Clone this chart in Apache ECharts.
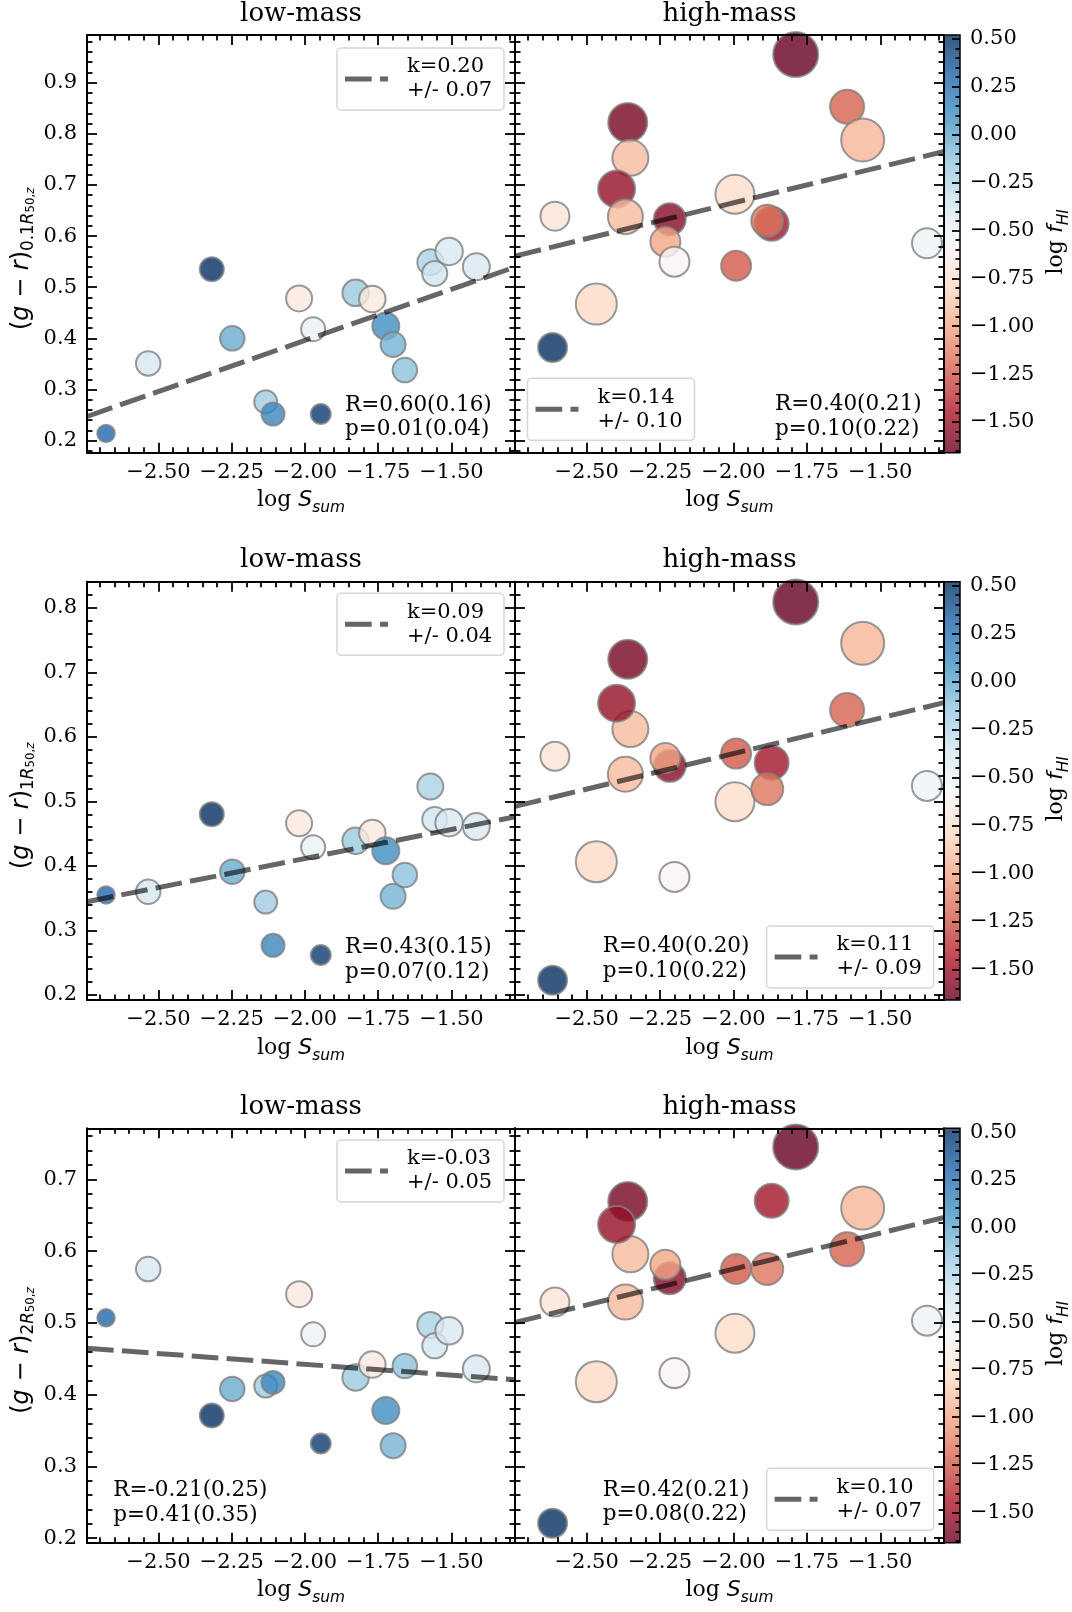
<!DOCTYPE html>
<html><head><meta charset="utf-8">
<script src="https://cdn.jsdelivr.net/npm/echarts@6.0.0/dist/echarts.min.js"></script>
<style>html,body{margin:0;padding:0;background:#fff}#chart{width:1072px;height:1612px}</style>
</head><body><div id="chart"></div>
<script>
// ---------------- data ----------------
const panelTitles = ['low-mass', 'high-mass'];
const rowSub = ['0.1', '1', '2'];
const xTicks = [-2.50, -2.25, -2.00, -1.75, -1.50];
const xRange = [-2.744, -1.283];
const yRanges = [[0.1764, 0.9932], [0.1923, 0.8403], [0.1938, 0.7710]];
const yTicks = [[0.2, 0.3, 0.4, 0.5, 0.6, 0.7, 0.8, 0.9], [0.2, 0.3, 0.4, 0.5, 0.6, 0.7, 0.8], [0.2, 0.3, 0.4, 0.5, 0.6, 0.7]];
const cbRange = [-1.66, 0.52];
const cbTicks = [-1.50, -1.25, -1.00, -0.75, -0.50, -0.25, 0.00, 0.25, 0.50];

// low-mass galaxies
const lowX = [-2.679, -2.535, -2.318, -2.248, -2.134, -2.109, -2.020, -1.972, -1.946, -1.827, -1.770, -1.724, -1.699, -1.659, -1.572, -1.557, -1.508, -1.415];
const lowF = [0.30, -0.38, 0.52, -0.02, -0.18, 0.14, -0.68, -0.50, 0.48, -0.16, -0.68, 0.11, -0.05, -0.12, -0.22, -0.36, -0.40, -0.40];
const lowSize = [19.5, 26.5, 26, 26.5, 25, 25, 28, 26, 22, 28.5, 28.5, 29, 27, 26.5, 28, 27, 29.5, 29];
const lowY1 = [0.214, 0.351, 0.535, 0.400, 0.276, 0.252, 0.478, 0.418, 0.252, 0.489, 0.477, 0.424, 0.388, 0.338, 0.549, 0.527, 0.570, 0.540];
const lowY2 = [0.355, 0.360, 0.480, 0.391, 0.344, 0.277, 0.466, 0.429, 0.262, 0.439, 0.451, 0.4235, 0.353, 0.386, 0.523, 0.472, 0.467, 0.461];
const lowY3 = [0.507, 0.575, 0.371, 0.408, 0.412, 0.417, 0.540, 0.484, 0.332, 0.424, 0.442, 0.378, 0.329, 0.440, 0.497, 0.468, 0.489, 0.436];

// high-mass galaxies
const highX = [-1.788, -1.613, -1.560, -2.360, -2.351, -2.398, -2.608, -2.368, -2.217, -2.232, -2.201, -1.995, -1.870, -1.885, -1.991, -1.341, -2.467, -2.616];
const highF = [-1.66, -1.22, -0.94, -1.62, -0.92, -1.53, -0.72, -0.92, -1.57, -1.00, -0.59, -0.77, -1.49, -1.16, -1.25, -0.51, -0.79, 0.52];
const highSize = [47, 36, 45, 41, 38, 39, 31, 37, 34, 32, 32, 41, 36, 34, 32, 32, 43, 31];
const highY1 = [0.955, 0.853, 0.788, 0.822, 0.753, 0.692, 0.639, 0.638, 0.633, 0.589, 0.550, 0.682, 0.624, 0.630, 0.542, 0.586, 0.467, 0.382];
const highY2 = [0.809, 0.6415, 0.745, 0.720, 0.612, 0.652, 0.570, 0.542, 0.555, 0.567, 0.383, 0.4995, 0.560, 0.519, 0.574, 0.524, 0.4065, 0.223];
const highY3 = [0.745, 0.6025, 0.660, 0.669, 0.5955, 0.637, 0.529, 0.529, 0.562, 0.581, 0.430, 0.4855, 0.670, 0.575, 0.575, 0.503, 0.418, 0.221];

// fits and statistics per row [low, high]
const fitK = [[0.20, 0.14], [0.09, 0.11], [-0.03, 0.10]];
const fitB = [[0.796, 0.945], [0.5915, 0.794], [0.3823, 0.775]];
const fitErr = [['0.07', '0.10'], ['0.04', '0.09'], ['0.05', '0.07']];
const statR = [['0.60(0.16)', '0.40(0.21)'], ['0.43(0.15)', '0.40(0.20)'], ['-0.21(0.25)', '0.42(0.21)']];
const statP = [['0.01(0.04)', '0.10(0.22)'], ['0.07(0.12)', '0.10(0.22)'], ['0.41(0.35)', '0.08(0.22)']];

// ---------------- layout / style ----------------
const SERIF = "'DejaVu Serif', serif";
const SANS = "'DejaVu Sans', sans-serif";
const PL = [87, 515], PW = [428, 429];
const ROW_TOP = [35, 581.7, 1128.3], ROW_H = [417.7, 418.3, 414.4];
const CB_L = 944, CB_W = 16;
const RDBU = ['#67001f', '#b2182b', '#d6604d', '#f4a582', '#fddbc7', '#f7f7f7', '#d1e5f0', '#92c5de', '#4393c3', '#2166ac', '#053061'];
const blend = (hex, a) => {
  const n = parseInt(hex.slice(1), 16);
  const c = [(n >> 16) & 255, (n >> 8) & 255, n & 255].map(v => Math.round(v * a + 255 * (1 - a)));
  return `rgb(${c[0]},${c[1]},${c[2]})`;
};
const RDBU_A = RDBU.map(c => blend(c, 0.8));
const fmt = (v, d) => (v < -1e-9 ? '\u2212' : '') + Math.abs(v).toFixed(d);

function minorList(lo, hi, per) {
  const out = [];
  for (let i = Math.ceil(lo * per); i <= Math.floor(hi * per); i++) {
    if (i % 5 !== 0) out.push(i / per);
  }
  return out;
}
const xMinor = minorList(xRange[0], xRange[1], 20);
const cbMinor = minorList(cbRange[0], cbRange[1], 20);

const grids = [], xAxes = [], yAxes = [], series = [], visualMaps = [], graphics = [];

function axisCommon(gi, type, pos, min, max, ticks, len, line, labelDigits) {
  return {
    gridIndex: gi, type: 'value', min: min, max: max, position: pos, z: 5,
    axisLine: {show: line, onZero: false, lineStyle: {color: '#000', width: 2}},
    axisTick: {show: true, inside: true, length: len, customValues: ticks, lineStyle: {color: '#000', width: 1.8}},
    axisLabel: labelDigits != null ? {
      show: true, customValues: ticks, margin: type === 'x' ? 9 : 10,
      formatter: v => fmt(v, labelDigits), fontFamily: SERIF, fontSize: 21, color: '#000'
    } : {show: false},
    splitLine: {show: false}, minorTick: {show: false}, minorSplitLine: {show: false}
  };
}

const lowRows = [lowY1, lowY2, lowY3];
const highRows = [highY1, highY2, highY3];

for (let r = 0; r < 3; r++) {
  const yMinor = minorList(yRanges[r][0], yRanges[r][1], 50);
  for (let c = 0; c < 2; c++) {
    const gi = r * 2 + c;
    grids.push({left: PL[c], top: ROW_TOP[r], width: PW[c], height: ROW_H[r], containLabel: false, outerBoundsMode: 'none'});
    xAxes.push(axisCommon(gi, 'x', 'bottom', xRange[0], xRange[1], xTicks, 10, true, 2));
    xAxes.push(axisCommon(gi, 'x', 'bottom', xRange[0], xRange[1], xMinor, 5.5, false, null));
    xAxes.push(axisCommon(gi, 'x', 'top', xRange[0], xRange[1], xTicks, 10, true, null));
    xAxes.push(axisCommon(gi, 'x', 'top', xRange[0], xRange[1], xMinor, 5.5, false, null));
    yAxes.push(axisCommon(gi, 'y', 'left', yRanges[r][0], yRanges[r][1], yTicks[r], 10, true, c === 0 ? 1 : null));
    yAxes.push(axisCommon(gi, 'y', 'left', yRanges[r][0], yRanges[r][1], yMinor, 5.5, false, null));
    yAxes.push(axisCommon(gi, 'y', 'right', yRanges[r][0], yRanges[r][1], yTicks[r], 10, true, null));
    yAxes.push(axisCommon(gi, 'y', 'right', yRanges[r][0], yRanges[r][1], yMinor, 5.5, false, null));
  }
}
// colorbar grids
for (let r = 0; r < 3; r++) {
  const gi = 6 + r;
  grids.push({left: CB_L, top: ROW_TOP[r], width: CB_W, height: ROW_H[r], containLabel: false, outerBoundsMode: 'none',
    show: true, borderColor: '#000', borderWidth: 1.5, backgroundColor: 'rgba(0,0,0,0)', z: 10});
  xAxes.push({gridIndex: gi, type: 'value', show: false, min: 0, max: 1});
  const maj = axisCommon(gi, 'y', 'right', cbRange[0], cbRange[1], cbTicks, 8, false, 2);
  maj.z = 11; yAxes.push(maj);
  const mnr = axisCommon(gi, 'y', 'right', cbRange[0], cbRange[1], cbMinor, 4.5, false, null);
  mnr.z = 11; yAxes.push(mnr);
}

for (let r = 0; r < 3; r++) {
  const sets = [[lowX, lowRows[r], lowF, lowSize], [highX, highRows[r], highF, highSize]];
  sets.forEach((s, c) => {
    const gi = r * 2 + c;
    series.push({
      type: 'scatter', xAxisIndex: gi * 4, yAxisIndex: gi * 4,
      data: s[0].map((x, i) => [x, s[1][i], s[2][i], s[3][i]]),
      symbol: 'circle', symbolSize: v => v[3] - 2,
      itemStyle: {opacity: 0.8, borderColor: '#808080', borderWidth: 2},
      emphasis: {disabled: true}, silent: true, z: 2
    });
  });
  [0, 1].forEach(c => {
    const gi = r * 2 + c;
    const k = fitK[r][c], b = fitB[r][c];
    series.push({
      type: 'line', xAxisIndex: gi * 4, yAxisIndex: gi * 4,
      data: [[xRange[0], k * xRange[0] + b], [xRange[1], k * xRange[1] + b]],
      symbol: 'none', silent: true, z: 3,
      lineStyle: {color: 'rgba(0,0,0,0.6)', width: 5, type: [26.7, 8.3], cap: 'butt'}
    });
  });
  visualMaps.push({
    type: 'continuous', min: cbRange[0], max: cbRange[1], dimension: 2,
    seriesIndex: [r * 4, r * 4 + 1], orient: 'vertical',
    left: CB_L, top: ROW_TOP[r], itemWidth: CB_W, itemHeight: ROW_H[r], padding: 0,
    calculable: false, hoverLink: false, realtime: false,
    inRange: {color: RDBU}, controller: {inRange: {color: RDBU_A}}, z: 4
  });
}

// ---------------- text & legends ----------------
const rich = {
  n: {fontFamily: SERIF, fontSize: 22, lineHeight: 30, verticalAlign: 'middle'},
  p: {fontFamily: SANS, fontSize: 24, lineHeight: 30, verticalAlign: 'middle'},
  i: {fontFamily: SANS, fontStyle: 'italic', fontSize: 24, lineHeight: 30, verticalAlign: 'middle'},
  s: {fontFamily: SANS, fontSize: 16.8, lineHeight: 15, verticalAlign: 'bottom'},
  si: {fontFamily: SANS, fontStyle: 'italic', fontSize: 16.8, lineHeight: 15, verticalAlign: 'bottom'},
  ss: {fontFamily: SANS, fontSize: 11.8, lineHeight: 5, verticalAlign: 'bottom'},
  ssi: {fontFamily: SANS, fontStyle: 'italic', fontSize: 11.8, lineHeight: 5, verticalAlign: 'bottom'},
  xi: {fontFamily: SANS, fontStyle: 'italic', fontSize: 22, lineHeight: 30, verticalAlign: 'middle'},
  xs: {fontFamily: SANS, fontStyle: 'italic', fontSize: 15.4, lineHeight: 15, verticalAlign: 'bottom'}
};

const legendBoxes = [
  [[337, 48], [527.5, 378.3]],
  [[337, 593.3], [766.6, 926]],
  [[337, 1140], [766.6, 1468.3]]
];
const statPos = [
  [[345, 417.5], [775, 417]],
  [[345, 960], [602.7, 959]],
  [[113.3, 1503], [602.7, 1502.5]]
];

for (let r = 0; r < 3; r++) {
  const top = ROW_TOP[r], bot = ROW_TOP[r] + ROW_H[r], mid = top + ROW_H[r] / 2;
  for (let c = 0; c < 2; c++) {
    const cx = PL[c] + PW[c] / 2;
    graphics.push({type: 'text', x: cx, y: top - 21, z: 30,
      style: {text: panelTitles[c], fontFamily: SERIF, fontSize: 26, fill: '#000', align: 'center', verticalAlign: 'middle'}});
    graphics.push({type: 'text', x: cx, y: bot + 48, z: 30,
      style: {text: '{n|log }{xi|S}{xs|sum}', rich: rich, fill: '#000', align: 'center', verticalAlign: 'middle'}});
    // legend
    const [bx, by] = legendBoxes[r][c], bw = 167, bh = 62;
    graphics.push({type: 'rect', z: 40, shape: {x: bx, y: by, width: bw, height: bh, r: 4},
      style: {fill: 'rgba(255,255,255,0.8)', stroke: 'rgba(204,204,204,0.8)', lineWidth: 1.5}});
    graphics.push({type: 'line', z: 41, shape: {x1: bx + 8, y1: by + bh / 2, x2: bx + 51, y2: by + bh / 2},
      style: {stroke: 'rgba(0,0,0,0.6)', lineWidth: 5, lineDash: [26.7, 8.3], lineCap: 'butt'}});
    graphics.push({type: 'text', z: 41, x: bx + 70, y: by + bh / 2,
      style: {text: 'k=' + fitK[r][c].toFixed(2) + '\n+/- ' + fitErr[r][c], fontFamily: SERIF, fontSize: 21, lineHeight: 24,
        fill: '#000', align: 'left', verticalAlign: 'middle'}});
    // statistics
    const [sx, sy] = statPos[r][c];
    graphics.push({type: 'text', z: 30, x: sx, y: sy,
      style: {text: 'R=' + statR[r][c] + '\np=' + statP[r][c], fontFamily: SERIF, fontSize: 21.5, lineHeight: 24.5,
        fill: '#000', align: 'left', verticalAlign: 'middle'}});
  }
  // y label
  graphics.push({type: 'text', x: 22, y: mid + 15, rotation: Math.PI / 2, z: 30,
    style: {text: '{p|(}{i|g}{p| \u2212 }{i|r}{p|)}{s|' + rowSub[r] + '}{si|R}{ss|50,}{ssi|z}', rich: rich, fill: '#000', align: 'center', verticalAlign: 'middle'}});
  // colorbar label
  graphics.push({type: 'text', x: 1056, y: mid - 2, rotation: Math.PI / 2, z: 30,
    style: {text: '{n|log }{xi|f}{xs|HI}', rich: rich, fill: '#000', align: 'center', verticalAlign: 'middle'}});
}

const chart = echarts.init(document.getElementById('chart'), null, {renderer: 'canvas'});
chart.setOption({
  backgroundColor: '#fff',
  animation: false,
  textStyle: {fontFamily: SERIF},
  grid: grids, xAxis: xAxes, yAxis: yAxes,
  visualMap: visualMaps,
  series: series,
  graphic: {elements: graphics}
});
</script></body></html>
